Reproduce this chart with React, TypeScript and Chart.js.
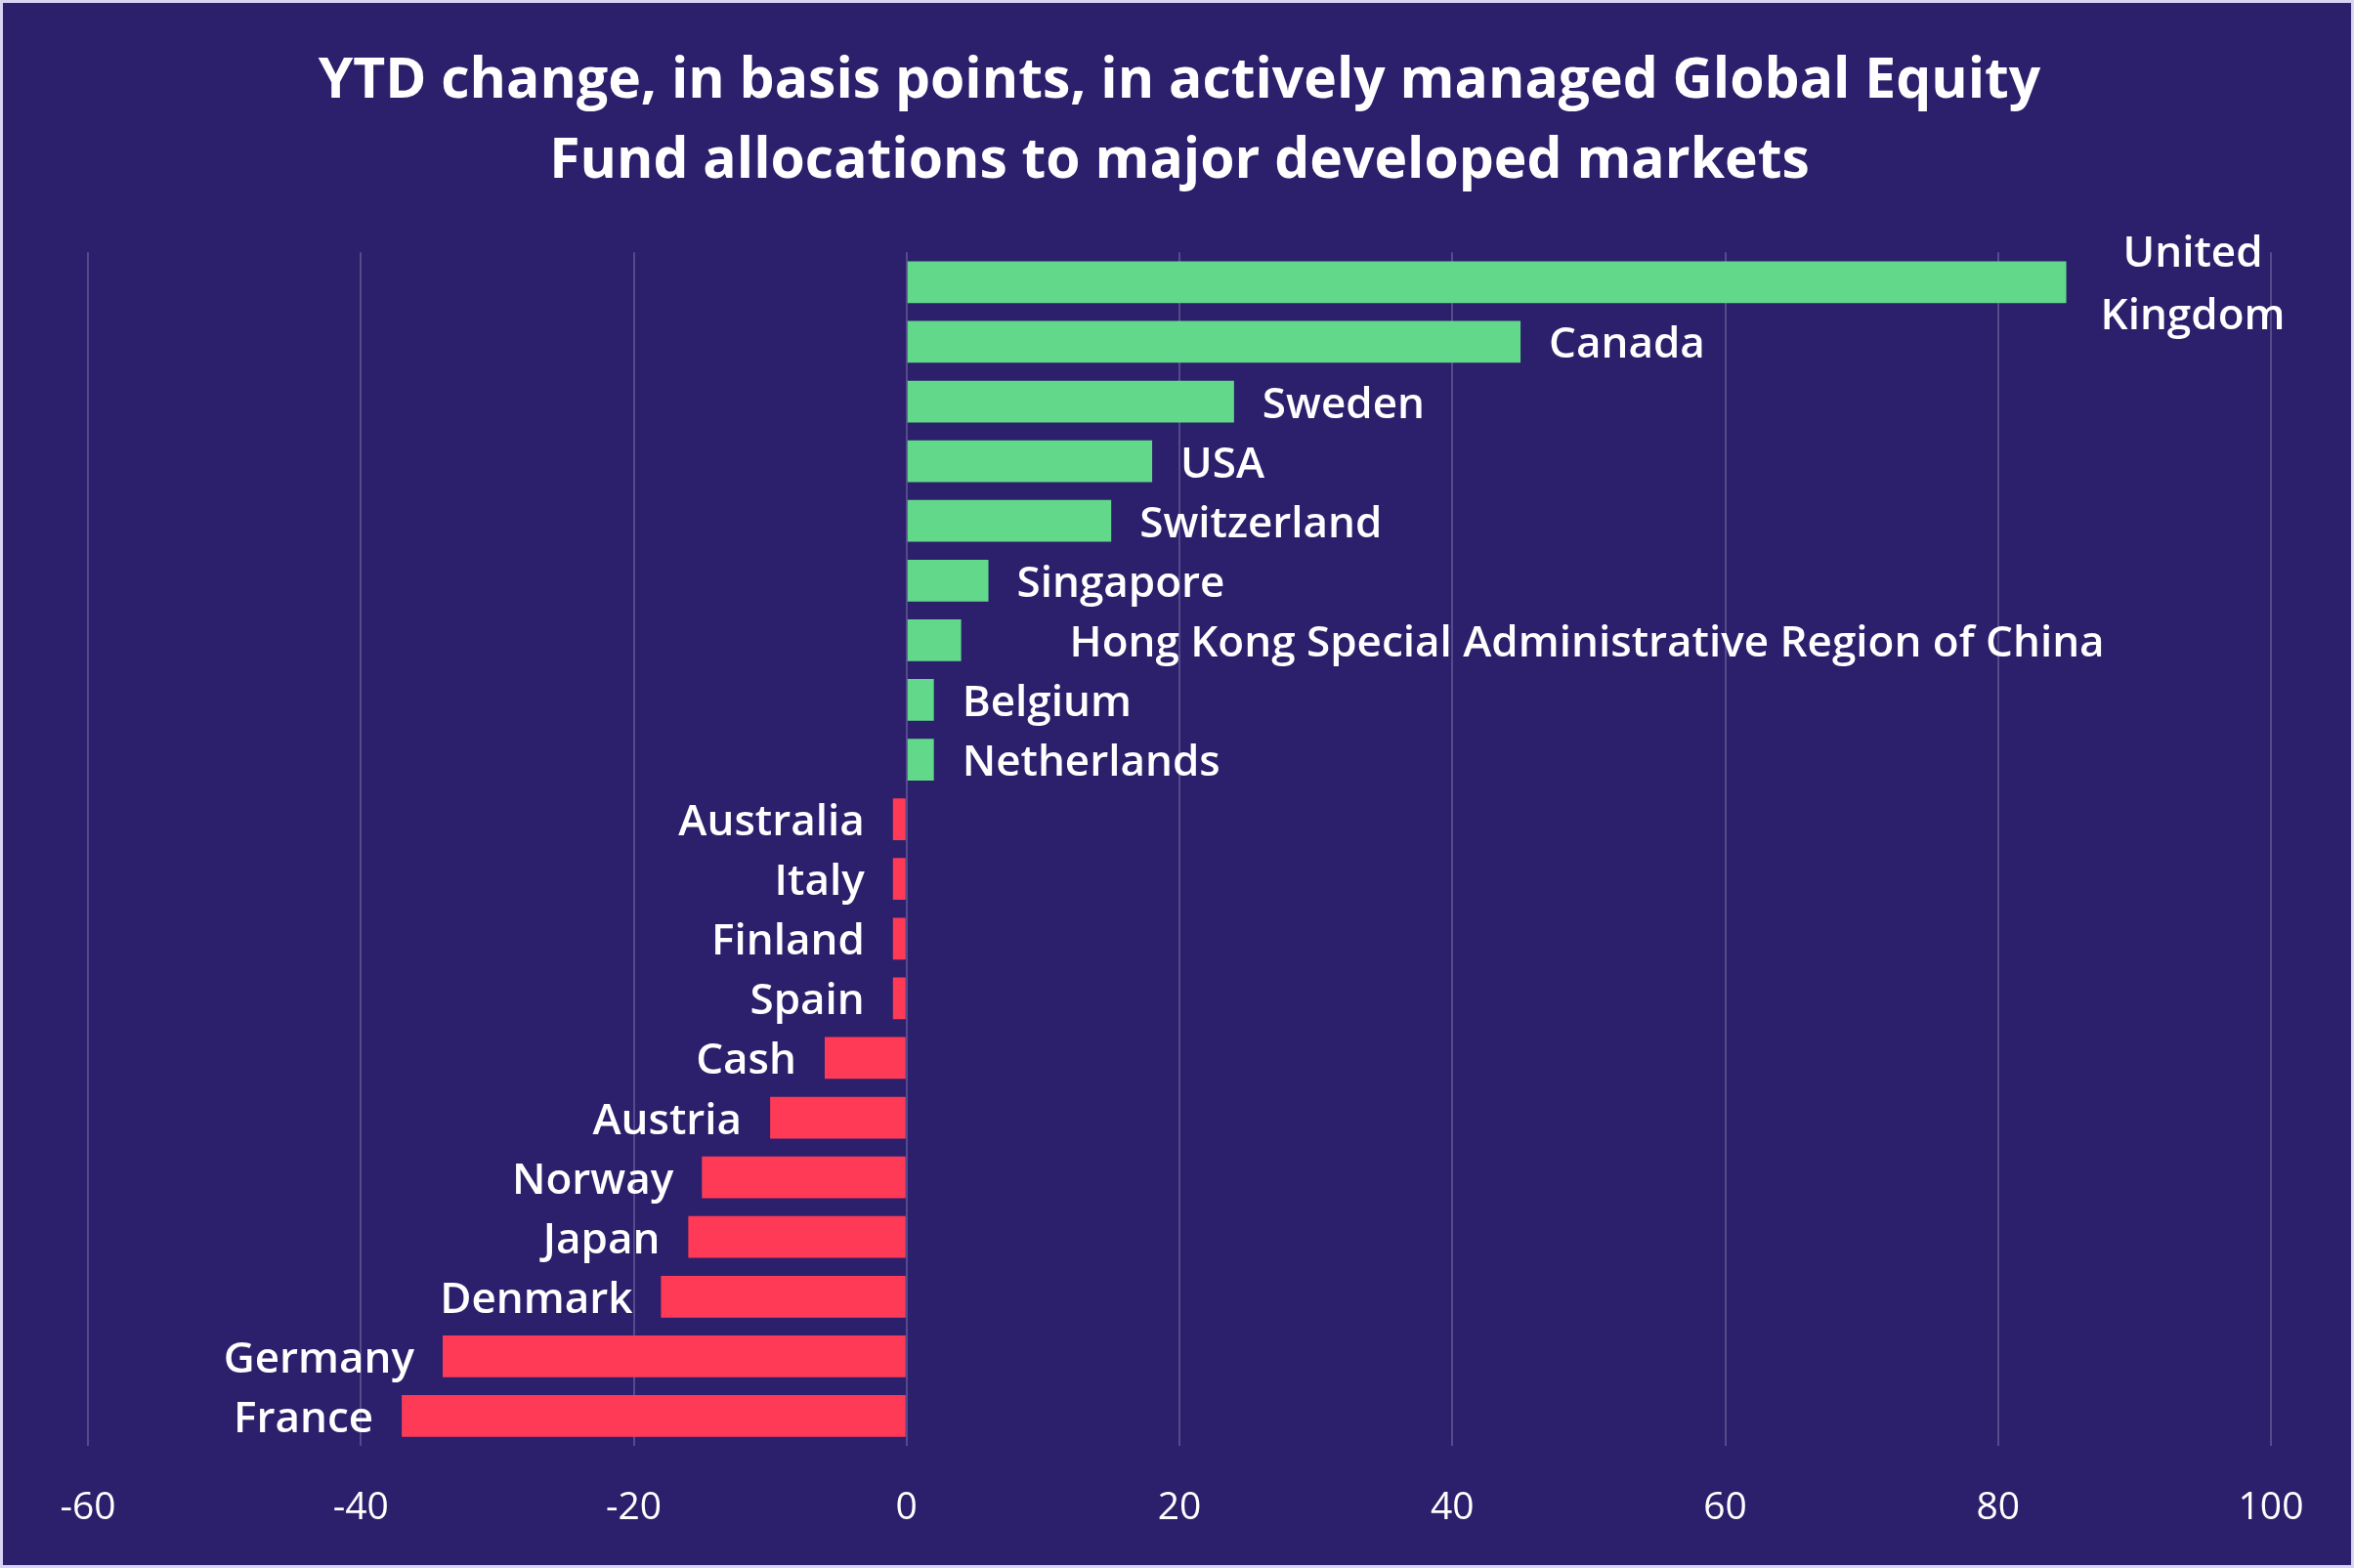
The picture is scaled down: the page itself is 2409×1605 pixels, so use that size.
import { useEffect, useRef } from 'react';
import { Chart, registerables } from 'chart.js';

Chart.register(...registerables);

const titleLines = [
  'YTD change, in basis points, in actively managed Global Equity',
  'Fund allocations to major developed markets',
];

const categories = [
  'United Kingdom',
  'Canada',
  'Sweden',
  'USA',
  'Switzerland',
  'Singapore',
  'Hong Kong Special Administrative Region of China',
  'Belgium',
  'Netherlands',
  'Australia',
  'Italy',
  'Finland',
  'Spain',
  'Cash',
  'Austria',
  'Norway',
  'Japan',
  'Denmark',
  'Germany',
  'France',
];

const values = [85, 45, 24, 18, 15, 6, 4, 2, 2, -1, -1, -1, -1, -6, -10, -15, -16, -18, -34, -37];

const xMin = -60;
const xMax = 100;
const xStep = 20;

// label wrapping / extra offsets (styling only)
const wrappedLabels: Record<string, string[]> = { 'United Kingdom': ['United', 'Kingdom'] };
const labelExtraShift: Record<string, number> = {
  'United Kingdom': 6,
  'Hong Kong Special Administrative Region of China': 82,
};

const FONT = '"Open Sans", "Noto Sans", sans-serif';
const BG = '#2c206c';
const GREEN = '#62d88a';
const RED = '#ff3a56';
const LABEL_SIZE = 44;
const LABEL_GAP = 29;
const LABEL_LINE_H = 64;
const LABEL_DY = 4;

export default function App() {
  const ref = useRef<HTMLCanvasElement>(null);

  useEffect(() => {
    document.body.style.margin = '0';
    const canvas = ref.current!;

    const labelPlugin = {
      id: 'barLabels',
      afterDatasetsDraw(chart: any) {
        const ctx = chart.ctx as CanvasRenderingContext2D;
        const meta = chart.getDatasetMeta(0);
        ctx.save();
        ctx.fillStyle = '#ffffff';
        ctx.font = `600 ${LABEL_SIZE}px ${FONT}`;
        ctx.textBaseline = 'middle';
        meta.data.forEach((bar: any, i: number) => {
          const name = categories[i];
          const lines = wrappedLabels[name] || [name];
          const { x, y } = bar.getProps(['x', 'y'], true);
          const yy = y + LABEL_DY;
          if (values[i] >= 0) {
            const maxW = Math.max(...lines.map((l) => ctx.measureText(l).width));
            const left = x + LABEL_GAP + (labelExtraShift[name] || 0);
            ctx.textAlign = 'center';
            const cx = left + maxW / 2;
            lines.forEach((l, j) => {
              ctx.fillText(l, cx, yy + (j - (lines.length - 1) / 2) * LABEL_LINE_H);
            });
          } else {
            ctx.textAlign = 'right';
            ctx.fillText(lines[0], x - LABEL_GAP, yy);
          }
        });
        ctx.restore();
      },
    };

    const chart = new Chart(canvas, {
      type: 'bar',
      data: {
        labels: categories,
        datasets: [
          {
            data: values,
            backgroundColor: values.map((v) => (v >= 0 ? GREEN : RED)),
            borderWidth: 0,
            barPercentage: 0.7,
            categoryPercentage: 1,
          },
        ],
      },
      options: {
        indexAxis: 'y',
        animation: false,
        responsive: false,
        maintainAspectRatio: false,
        layout: { padding: { left: 87, right: 82, top: 0, bottom: 0 } },
        plugins: {
          legend: { display: false },
          tooltip: { enabled: false },
          title: {
            display: true,
            text: titleLines,
            color: '#ffffff',
            font: { family: FONT, size: 57, weight: 'bold', lineHeight: 1.45 },
            padding: { top: 39, bottom: 51 },
          },
        },
        scales: {
          x: {
            min: xMin,
            max: xMax,
            ticks: {
              stepSize: xStep,
              color: '#ffffff',
              font: { family: FONT, size: 39 },
              padding: 40,
            },
            grid: { color: '#554a8c', lineWidth: 2, drawTicks: false },
            border: { display: false },
            afterFit: (scale: any) => {
              scale.height = 122;
            },
          },
          y: {
            display: false,
            grid: { display: false },
          },
        },
      },
      plugins: [labelPlugin],
    });

    return () => chart.destroy();
  }, []);

  return (
    <div
      style={{
        width: 2409,
        height: 1605,
        boxSizing: 'border-box',
        border: '3px solid #d8d4f4',
        background: BG,
      }}
    >
      <canvas ref={ref} width={2403} height={1599} style={{ display: 'block' }} />
    </div>
  );
}
